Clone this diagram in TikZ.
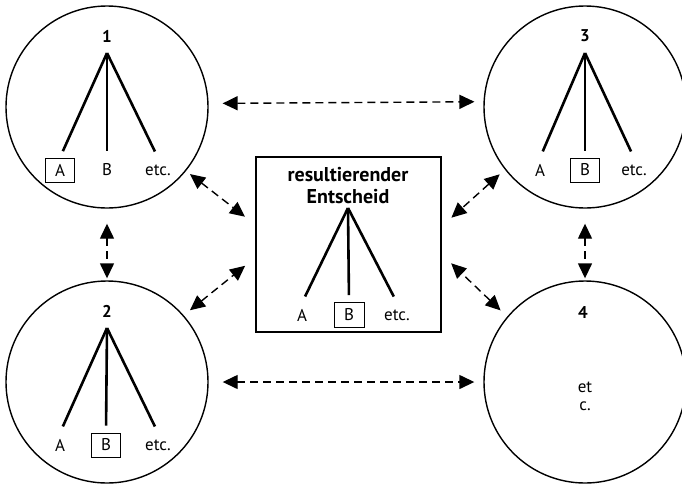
\documentclass[tikz,border=0pt]{standalone}
\usepackage{fontspec}
\setmainfont{PT Sans}
\usetikzlibrary{arrows.meta}

\begin{document}
\begin{tikzpicture}[x=1pt, y=-1pt,
  kreis/.style={draw, circle, line width=1.4pt, minimum size=202pt, inner sep=0pt},
  rahmen/.style={draw, line width=1.5pt, minimum width=185pt, minimum height=175pt, inner sep=0pt},
  ast/.style={line width=2.6pt, shorten >=7pt},
  blatt/.style={minimum width=29pt, minimum height=24pt, inner sep=0pt, font=\fontsize{17}{18}\selectfont},
  wahl/.style={draw, line width=0.9pt},
  nummer/.style={font=\fontsize{17}{18}\selectfont\bfseries},
  link/.style={line width=1.4pt, dash pattern=on 8pt off 5pt,
    {Triangle[length=15pt,width=14pt]}-{Triangle[length=15pt,width=14pt]}}]
\useasboundingbox (0,0) rectangle (682,483);

% Kreise und Rahmen
\node[kreis] (c1) at (107,107) {};
\node[kreis] (c2) at (107,382) {};
\node[kreis] (c3) at (585,107) {};
\node[kreis] (c4) at (585,382) {};
\node[rahmen] (box) at (348.5,244.5) {};

% Baum 1
\node[nummer] (n1) at (107,36) {1};
\coordinate (s1) at (107,53);
\node[blatt,wahl] (a1) at (60,170) {A};
\node[blatt] (b1) at (107,170) {B};
\node[blatt] (e1) at (158,170) {etc.};
\draw[ast] (s1) -- (a1.north);
\draw[ast] (s1) -- (b1.north);
\draw[ast] (s1) -- (e1.north);

% Baum 2
\node[nummer] (n2) at (107,311) {2};
\coordinate (s2) at (107,328);
\node[blatt] (a2) at (60,445) {A};
\node[blatt,wahl] (b2) at (106,445) {B};
\node[blatt] (e2) at (158,445) {etc.};
\draw[ast] (s2) -- (a2.north);
\draw[ast] (s2) -- (b2.north);
\draw[ast] (s2) -- (e2.north);

% Baum 3
\node[nummer] (n3) at (585,36) {3};
\coordinate (s3) at (585,53);
\node[blatt] (a3) at (540,170) {A};
\node[blatt,wahl] (b3) at (585,170) {B};
\node[blatt] (e3) at (634,170) {etc.};
\draw[ast] (s3) -- (a3.north);
\draw[ast] (s3) -- (b3.north);
\draw[ast] (s3) -- (e3.north);

% Kreis 4
\node[nummer] (n4) at (583,312) {4};
\node[blatt, align=center] (e4) at (585,396) {et\\c.};

% resultierender Entscheid
\node[nummer, font=\fontsize{20}{22}\selectfont\bfseries, align=center] (t0) at (348,186) {resultierender\\Entscheid};
\coordinate (s0) at (348,208);
\node[blatt] (a0) at (302,315) {A};
\node[blatt,wahl,minimum width=30pt,minimum height=25pt] (b0) at (349,315) {B};
\node[blatt] (e0) at (397,315) {etc.};
\draw[ast] (s0) -- (a0.north);
\draw[ast] (s0) -- (b0.north);
\draw[ast] (s0) -- (e0.north);

% Verbindungen
\draw[link, shorten <=14pt, shorten >=9pt] (c1.2.8) -- (c3.177.2);
\draw[link, shorten <=14pt, shorten >=9pt] (c2.east) -- (c4.west);
\draw[link, shorten <=15pt, shorten >=2pt] (c1.south) -- (c2.north);
\draw[link, shorten <=15pt, shorten >=2pt] (c3.south) -- (c4.north);
\draw[link, shorten <=5pt, shorten >=13pt] (c1.-39) -- (box.168);
\draw[link, shorten <=8pt, shorten >=13pt] (c2.41) -- (box.188);
\draw[link, shorten <=7pt, shorten >=13pt] (c3.218) -- (box.11);
\draw[link, shorten <=9pt, shorten >=13pt] (c4.140) -- (box.-6);
\end{tikzpicture}
\end{document}
